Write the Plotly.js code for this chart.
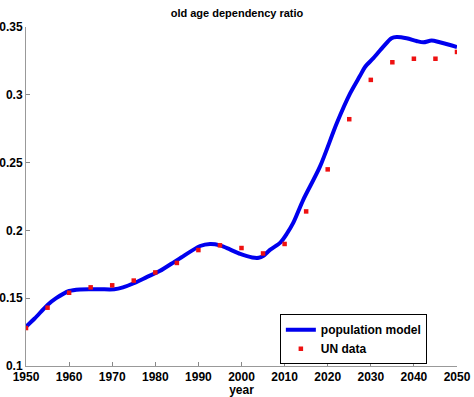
<!DOCTYPE html>
<html>
<head>
<meta charset="utf-8">
<script src="https://cdn.plot.ly/plotly-3.0.1.min.js"></script>
<style>html,body{margin:0;padding:0;background:#fff;}#chart{width:474px;height:397px;}</style>
</head>
<body>
<div id="chart"></div>
<script>
// UN data (every 5 years)
const unYears = [1950,1955,1960,1965,1970,1975,1980,1985,1990,1995,2000,2005,2010,2015,2020,2025,2030,2035,2040,2045,2050];
const unValues = [0.128,0.143,0.154,0.158,0.1595,0.163,0.169,0.176,0.1855,0.189,0.187,0.183,0.190,0.214,0.245,0.282,0.311,0.324,0.3266,0.3266,0.3316];

// population model (sampled from the curve)
const modelYears = [1950,1952,1955,1957,1960,1962.5,1967,1970.5,1972.5,1975,1978,1981,1984.5,1986,1990.4,1992.7,1995,1997.3,1999.7,2002.5,2004,2005,2006.6,2009,2010.6,2012,2014.3,2018.2,2022.1,2025.2,2027.5,2028.7,2030.6,2032.9,2034.8,2036,2038.3,2040.6,2042.2,2044.1,2046,2048.4,2050];
const modelValues = [0.129,0.135,0.145,0.150,0.1553,0.1565,0.1566,0.1566,0.158,0.161,0.1655,0.170,0.177,0.180,0.1885,0.190,0.189,0.186,0.1826,0.180,0.1798,0.181,0.1856,0.191,0.198,0.2055,0.2224,0.247,0.279,0.301,0.314,0.3207,0.327,0.3355,0.3417,0.3426,0.3417,0.3397,0.3387,0.3400,0.3387,0.3367,0.3352];

const xTicks = [1950,1960,1970,1980,1990,2000,2010,2020,2030,2040,2050];
const yTicks = [0.1,0.15,0.2,0.25,0.3,0.35];
const yTickText = ['0.1','0.15','0.2','0.25','0.3','0.35'];
const seriesNames = ['population model','UN data'];

const font = {family: 'Liberation Sans, Arial, sans-serif', size: 12, color: '#000'};

const traces = [
  {x: modelYears, y: modelValues, type: 'scatter', mode: 'lines', name: '<b>' + seriesNames[0] + '</b>',
   line: {color: '#0000ee', width: 4, shape: 'spline', smoothing: 0.8}},
  {x: unYears, y: unValues, type: 'scatter', mode: 'markers', name: '<b>' + seriesNames[1] + '</b>',
   marker: {color: '#ee1111', size: 4.5, symbol: 'square'}}
];

const layout = {
  width: 474, height: 397,
  margin: {l: 26, r: 17, t: 27, b: 31},
  paper_bgcolor: '#fff', plot_bgcolor: '#fff',
  font: font,
  title: {text: '<b>old age dependency ratio</b>', x: 0.5, xanchor: 'center', y: 0.967, yanchor: 'middle', font: {family: font.family, size: 11, color: '#000'}},
  xaxis: {
    range: [1950, 2050], tickvals: xTicks, ticktext: xTicks.map(v => '<b>' + v + '</b>'),
    ticks: 'inside', ticklen: 4, tickcolor: '#888', showline: true, linecolor: '#999', linewidth: 1,
    showgrid: false, zeroline: false, tickfont: font,
    title: {text: '<b>year</b>', font: font, standoff: 0}
  },
  yaxis: {
    range: [0.1, 0.35], tickvals: yTicks, ticktext: yTickText.map(v => '<b>' + v + '</b>'),
    ticks: 'inside', ticklen: 4, tickcolor: '#888', showline: true, linecolor: '#999', linewidth: 1,
    showgrid: false, zeroline: false, tickfont: font
  },
  showlegend: true,
  legend: {x: 0.589, y: 0.153, xanchor: 'left', yanchor: 'top', bordercolor: '#000', borderwidth: 1, bgcolor: '#fff',
    font: {family: font.family, size: 12, color: '#000'}, tracegroupgap: 0, itemwidth: 30}
};

Plotly.newPlot('chart', traces, layout, {staticPlot: true, displayModeBar: false});
</script>
</body>
</html>
